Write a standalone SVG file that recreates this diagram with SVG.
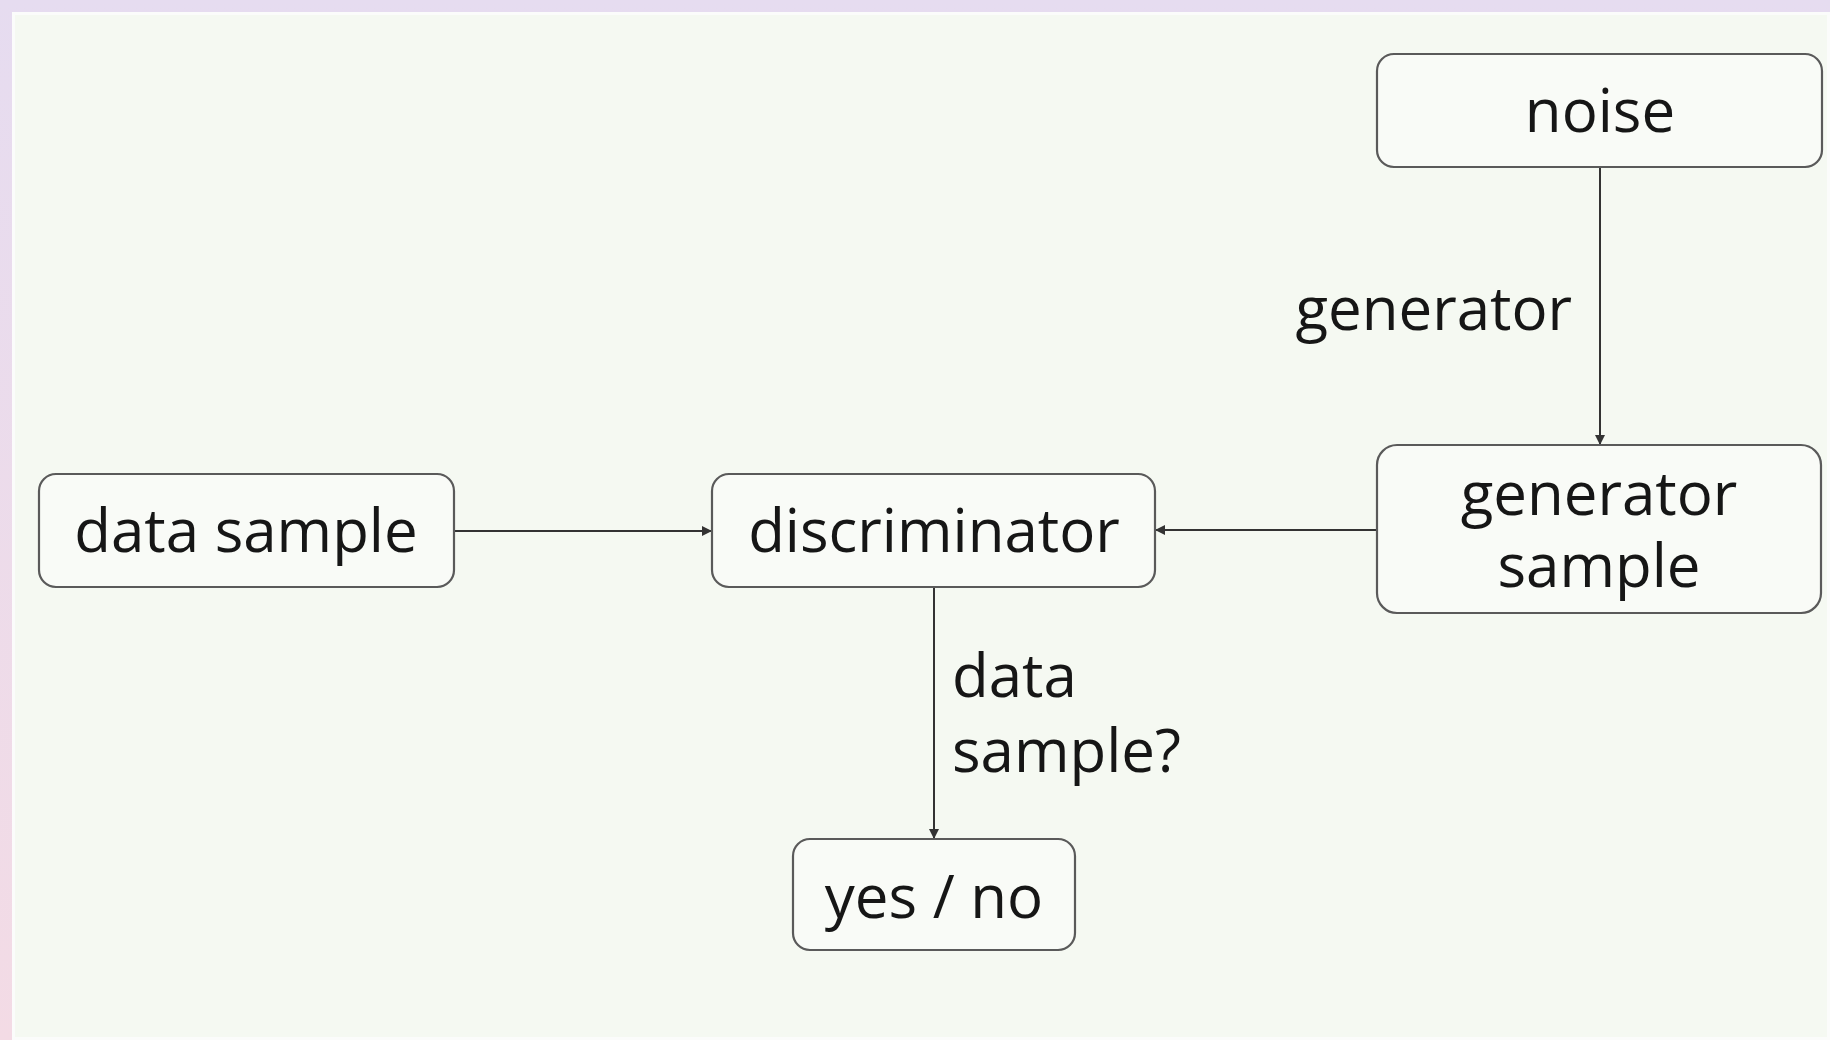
<svg xmlns="http://www.w3.org/2000/svg" width="1830" height="1040" viewBox="0 0 1830 1040">
  <defs>
    <linearGradient id="edge" x1="0" y1="0" x2="0" y2="1">
      <stop offset="0" stop-color="#e6dcf0"/>
      <stop offset="1" stop-color="#f3dbe5"/>
    </linearGradient>
    <marker id="arrow" viewBox="0 0 10 10" refX="10" refY="5" markerWidth="5" markerHeight="5" orient="auto" markerUnits="strokeWidth">
      <path d="M0,0 L10,5 L0,10 z" fill="#333"/>
    </marker>
    <style>
      .box { fill: #f9fbf7; stroke: #5a5a5a; stroke-width: 2.2; }
      .lbl { font-family: "Open Sans", "Noto Sans", "Liberation Sans", sans-serif; font-size: 60px; fill: #161616; }
      .mid { text-anchor: middle; }
      .conn { stroke: #333; stroke-width: 2; fill: none; marker-end: url(#arrow); }
    </style>
  </defs>

  <rect x="0" y="0" width="1830" height="1040" fill="url(#edge)"/>
  <rect x="12" y="12" width="1818" height="1028" fill="#f5f9f2"/>
  <rect x="13.5" y="13.5" width="1815" height="1025" fill="none" stroke="#fbfcfb" stroke-width="3"/>

  <g id="connectors">
    <line class="conn" x1="1600" y1="167" x2="1600" y2="445"/>
    <line class="conn" x1="454" y1="531" x2="712" y2="531"/>
    <line class="conn" x1="1377" y1="530" x2="1155" y2="530"/>
    <line class="conn" x1="934" y1="587" x2="934" y2="839"/>
    <text class="lbl" x="1572" y="330" text-anchor="end">generator</text>
    <text class="lbl" x="952" y="697">data</text>
    <text class="lbl" x="952" y="772">sample?</text>
  </g>

  <g id="noise">
    <rect class="box" x="1377" y="54" width="445" height="113" rx="17"/>
    <text class="lbl mid" x="1600" y="132">noise</text>
  </g>

  <g id="data-sample">
    <rect class="box" x="39" y="474" width="415" height="113" rx="17"/>
    <text class="lbl mid" x="246" y="552">data sample</text>
  </g>

  <g id="discriminator">
    <rect class="box" x="712" y="474" width="443" height="113" rx="17"/>
    <text class="lbl mid" x="934" y="552">discriminator</text>
  </g>

  <g id="generator-sample">
    <rect class="box" x="1377" y="445" width="444" height="168" rx="20"/>
    <text class="lbl mid" x="1599" y="515">generator</text>
    <text class="lbl mid" x="1599" y="587">sample</text>
  </g>

  <g id="yes-no">
    <rect class="box" x="793" y="839" width="282" height="111" rx="17"/>
    <text class="lbl mid" x="934" y="918">yes / no</text>
  </g>
</svg>
